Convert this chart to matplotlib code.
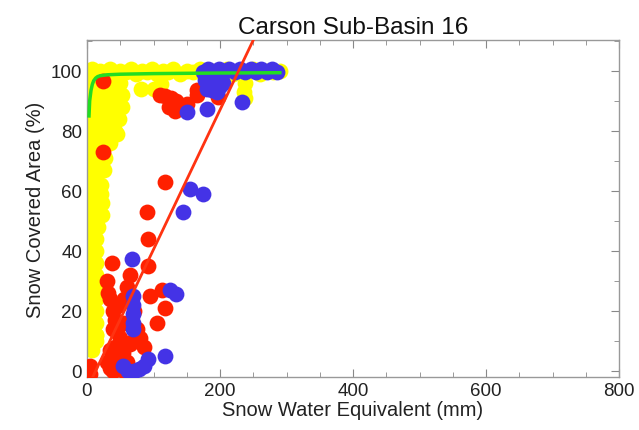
import matplotlib
matplotlib.use("Agg")
import matplotlib.pyplot as plt
from matplotlib.ticker import MultipleLocator

plt.rcParams['font.family'] = ['Liberation Sans', 'DejaVu Sans']

# ---------------- data ----------------
# yellow series: top band + left cluster
yellow_x = [2, 8, 14, 20, 27, 34, 42, 50, 58, 66, 74, 82, 90, 98, 106, 114, 122, 130,
            140, 150, 160, 170, 180, 190, 200, 210, 220, 230, 240, 250, 260, 270, 280, 290,
            81, 112, 100, 106, 238, 238, 236,
            0, 7, 14, 21, 28, 35, 42, 49,
            0, 7, 14, 21, 28, 35, 42, 49, 53,
            0, 7, 14, 21, 28, 35, 42, 49, 53,
            0, 7, 14, 21, 28, 35, 42, 48,
            0, 7, 14, 21, 28, 35, 42, 45,
            0, 7, 14, 21, 28, 35,
            0, 7, 14, 21, 27,
            0, 7, 14, 22, 26,
            0, 7, 14, 21,
            0, 7, 14, 21,
            0, 7, 14, 22,
            0, 7, 14, 22,
            0, 7, 16,
            2, 8, 14, 2, 8, 14, 2, 8, 14, 2, 8, 14, 2, 8, 14, 2, 8, 14, 2, 8, 14,
            2, 8, 14, 2, 8, 14, 2, 8, 14, 2, 8, 14, 2, 8]
yellow_y = [99.5, 100.5, 99.0, 100.0, 99.5, 100.5, 99.0, 100.0, 99.5, 100.5, 99.0, 100.0,
            99.5, 100.5, 99.0, 100.0, 99.5, 100.5, 99.0, 100.0, 99.5, 100.5, 99.0, 100.0,
            99.5, 100.5, 99.0, 100.0, 99.5, 100.5, 99.0, 100.0, 99.5, 100.0,
            94, 95.5, 94, 93.5, 96, 91, 93,
            96, 96, 96, 96, 96, 96, 96, 96,
            92, 92, 92, 92, 92, 92, 92, 92, 92,
            88, 88, 88, 88, 88, 88, 88, 88, 88,
            84, 84, 84, 84, 84, 84, 84, 84,
            80, 80, 80, 80, 80, 80, 80, 79,
            76, 76, 76, 76, 76, 76,
            72, 72, 72, 72, 71,
            68, 68, 68, 68, 67,
            64, 64, 64, 62,
            60, 60, 60, 59,
            56, 56, 56, 56,
            52, 52, 52, 52,
            48, 48, 48,
            46, 45, 44, 42, 41, 40, 38, 37, 36, 34, 33, 32, 30, 29, 28, 26, 25, 24, 22, 21, 20,
            18, 17, 16, 14, 13, 12, 10, 11, 12, 8, 9, 10, 8, 7]

red_x = [24, 24, 117, 110, 118, 126, 134, 140, 150, 124, 132, 165, 165, 197,
         90, 92, 38, 92, 65, 30, 32, 95, 113, 117, 105, 39, 42, 54, 45, 50, 80,
         35, 38, 35, 54, 65, 4.5, 4.5, 30, 45, 55, 60, 42, 48, 56, 60, 70, 75, 85,
         35, 39, 69, 39, 54]
red_y = [96.7, 73, 63, 92, 91.5, 91, 90, 88.5, 89, 88, 86.5, 93.7, 92, 91.3,
         53, 44, 36, 35, 32, 30, 26, 25, 27, 21, 16, 20, 17, 16, 13, 11, 11,
         7, 4, 1, 6, 9, 1.7, -1, 3, 2, 0, 3, 8, 22, 24, 28, 20, 14, 8,
         24, 14, 10, 0, 4]

blue_x = [150, 180, 233,
          175, 182, 190, 198, 206, 214, 222, 230, 238, 246, 254, 262, 270, 278, 285,
          178, 185, 192, 200, 188, 196, 205, 180,
          155, 174, 144, 68, 69, 69, 69, 69, 69, 125, 134, 117, 92,
          54, 62, 70, 78, 86]
blue_y = [86.3, 87.3, 89.7,
          99.5, 100.5, 99.5, 100.5, 99.5, 100.5, 99.5, 100.5, 99.5, 100.5, 99.5, 100.5,
          99.5, 100.5, 99.8,
          97, 96, 97, 95, 93.5, 93, 96, 94,
          60.7, 59, 53, 37.3, 25, 22, 19, 16, 14, 27, 25.7, 5, 4,
          1.5, 0, 0, 0.5, 1.5]

# green fitted curve
green_x = [3, 4, 6, 8, 10, 13, 16, 20, 30, 50, 100, 200, 290]
green_y = [85, 90, 93.5, 95.5, 96.7, 97.6, 98.1, 98.4, 98.7, 98.9, 99.1, 99.3, 99.4]

# red linear fit
fit_slope = 0.465
fit_intercept = -6.0

x_ticks = [0, 200, 400, 600, 800]
y_ticks = [0, 20, 40, 60, 80, 100]

# ---------------- figure ----------------
fig = plt.figure(figsize=(6.39, 4.31), dpi=100)
ax = fig.add_axes([87/639, 1 - 378/431, (619 - 87)/639, (378 - 41)/431])

ms = 130
ax.scatter(yellow_x, yellow_y, s=ms, c='#ffff00', linewidths=0, zorder=2)
ax.scatter(red_x, red_y, s=ms, c='#ff2000', linewidths=0, zorder=3)
ax.scatter(blue_x, blue_y, s=ms, c='#4433e6', linewidths=0, zorder=4)
ax.plot(green_x, green_y, color='#22dd22', lw=2.5, zorder=5)
ax.axline((0, fit_intercept), slope=fit_slope, color='#ff3311', lw=2, zorder=6)

ax.set_xlim(0, 800)
ax.set_ylim(-2, 110.3)
ax.set_xticks(x_ticks)
ax.set_yticks(y_ticks)
ax.xaxis.set_minor_locator(MultipleLocator(50))
ax.yaxis.set_minor_locator(MultipleLocator(10))
ax.tick_params(which='both', direction='in', top=True, right=True,
               color='#888888', labelsize=13.5, labelcolor='#222222')
ax.tick_params(which='major', length=6)
ax.tick_params(which='minor', length=3.5)
for sp in ax.spines.values():
    sp.set_color('#999999')
    sp.set_linewidth(1)

ax.set_title('Carson Sub-Basin 16', fontsize=17.5, color='#111111', pad=5)
ax.set_xlabel('Snow Water Equivalent (mm)', fontsize=14.5, color='#222222', labelpad=1)
ax.set_ylabel('Snow Covered Area (%)', fontsize=14.5, color='#222222', labelpad=4)

fig.savefig('out.png', dpi=100)
